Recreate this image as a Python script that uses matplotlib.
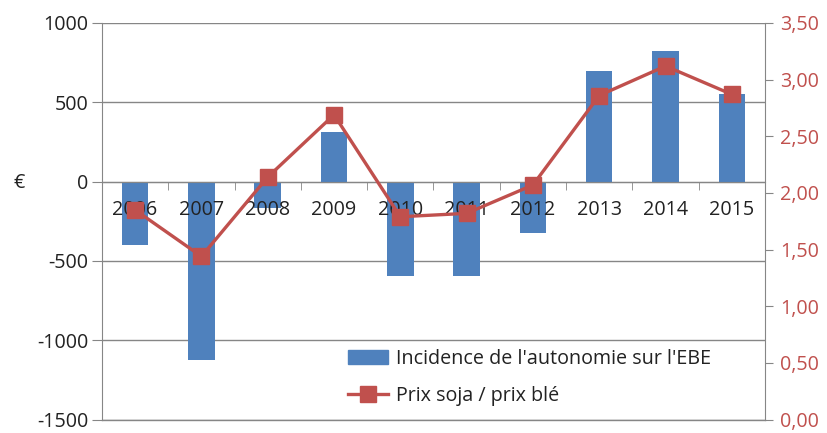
import matplotlib
matplotlib.use('Agg')
import matplotlib.pyplot as plt
from matplotlib.ticker import FuncFormatter
from matplotlib.lines import Line2D
from matplotlib.patches import Patch

# données
annees = ['2006', '2007', '2008', '2009', '2010', '2011', '2012', '2013', '2014', '2015']
incidence_ebe = [-400, -1125, -165, 310, -595, -595, -325, 700, 825, 555]
ratio_soja_ble = [1.85, 1.44, 2.14, 2.69, 1.79, 1.82, 2.07, 2.86, 3.12, 2.87]

bleu = '#4F81BD'
rouge = '#C0504D'
gris = '#868686'
texte = '#222222'
fs = 14.2

plt.rcParams['font.family'] = ['Open Sans', 'DejaVu Sans']
plt.rcParams['axes.unicode_minus'] = False

fig = plt.figure(figsize=(8.27, 4.33), dpi=100)
ax = fig.add_axes([0.1233, 0.031, 0.8017, 0.9159])

x = list(range(len(annees)))
ax.bar(x, incidence_ebe, width=0.4, color=bleu, zorder=2)
ax.set_xlim(-0.5, len(annees) - 0.5)
ax.set_ylim(-1500, 1000)
ax.set_yticks([-1500, -1000, -500, 0, 500, 1000])
ax.yaxis.grid(True, color=gris, linewidth=1)
ax.set_axisbelow(True)
ax.axhline(-1500, color=gris, linewidth=1, clip_on=False)
ax.tick_params(axis='y', labelsize=fs, labelcolor=texte, length=7, color=gris, pad=3)

# axe des catégories sur le zéro, étiquettes devant les barres
ax.spines['bottom'].set_position(('data', 0))
ax.spines['bottom'].set_color(gris)
ax.spines['bottom'].set_zorder(3)
ax.spines['top'].set_visible(False)
ax.spines['left'].set_color(gris)
ax.spines['right'].set_visible(False)
ax.set_xticks(x)
ax.set_xticklabels(annees)
ax.set_xticks([i + 0.5 for i in x[:-1]], minor=True)
ax.tick_params(axis='x', which='major', length=0, pad=13, labelsize=fs, labelcolor=texte)
ax.tick_params(axis='x', which='minor', length=6, color=gris, direction='out')
ax.xaxis.set_zorder(3)

fig.text(0.016, 0.577, '€', fontsize=fs, color=texte, va='center')

ax2 = ax.twinx()
ax2.plot(x, ratio_soja_ble, color=rouge, linewidth=2.4, marker='s', markersize=11, zorder=3)
ax2.set_ylim(0, 3.5)
ax2.set_yticks([0, 0.5, 1, 1.5, 2, 2.5, 3, 3.5])
ax2.yaxis.set_major_formatter(FuncFormatter(lambda v, p: f'{v:.2f}'.replace('.', ',')))
ax2.tick_params(axis='y', labelsize=fs, labelcolor=rouge, color=gris, length=6, pad=5)
for s in ['top', 'left', 'bottom']:
    ax2.spines[s].set_visible(False)
ax2.spines['right'].set_color(gris)

poignees = [Patch(color=bleu),
            Line2D([0], [0], color=rouge, linewidth=2.4, marker='s', markersize=11)]
ax2.legend(poignees, ["Incidence de l'autonomie sur l'EBE", 'Prix soja / prix blé'],
           loc='lower left', bbox_to_anchor=(0.345, -0.01), frameon=False, fontsize=fs,
           handlelength=2.0, handletextpad=0.4, labelspacing=0.85, labelcolor=texte)

fig.savefig('out.png', dpi=100)
